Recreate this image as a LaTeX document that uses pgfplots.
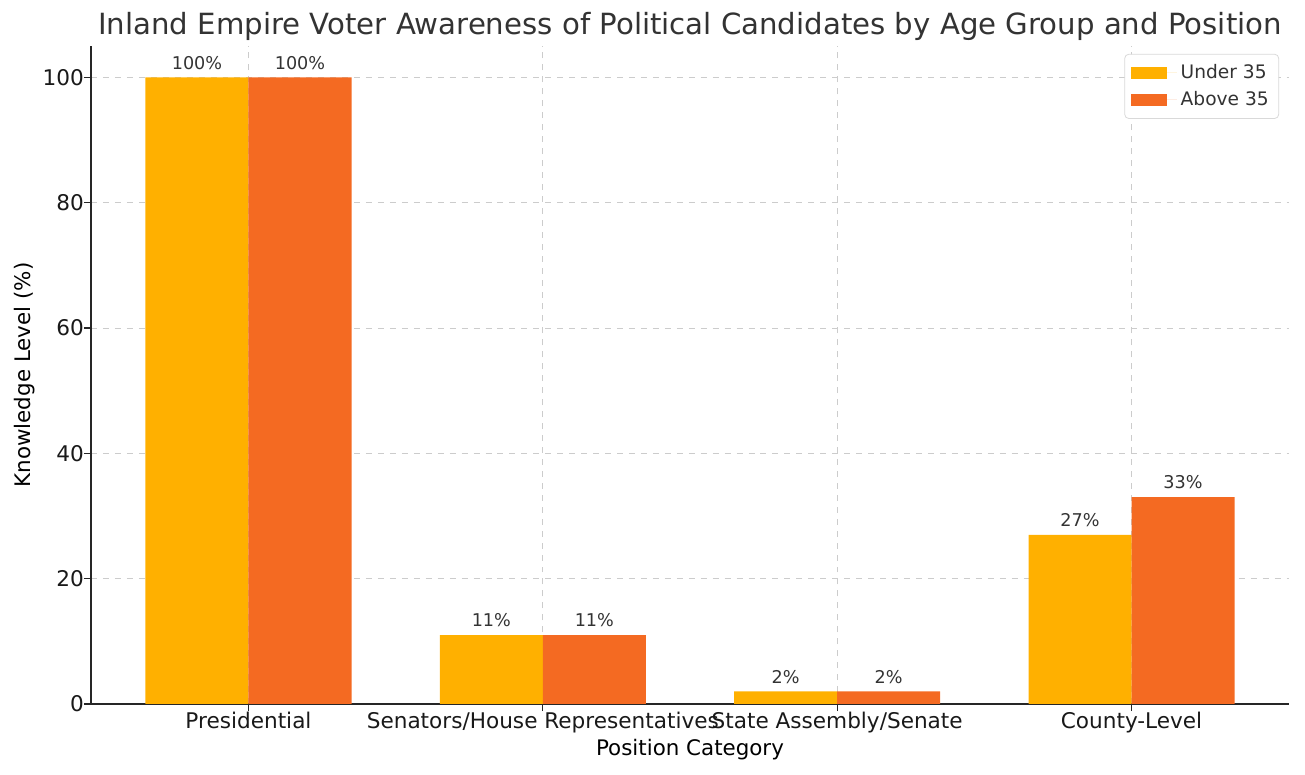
\documentclass[border=0pt]{standalone}
\usepackage{pgfplots}
\pgfplotsset{compat=1.18}
\usepackage{fontspec}
\setmainfont{DejaVu Sans}
\definecolor{under}{HTML}{FFB000}
\definecolor{above}{HTML}{F46A22}
\definecolor{txt}{HTML}{333333}
\begin{document}
\begin{tikzpicture}
\useasboundingbox (-45.5bp,-35.5bp) rectangle (607bp,352bp);
\begin{axis}[
    at={(0,0)}, anchor=south west,
    scale only axis,
    width=599bp, height=329bp,
    xmin=-0.535, xmax=3.535,
    ymin=0, ymax=105,
    axis x line*=bottom, axis y line*=left,
    axis line style={-, line width=0.6bp, black!85},
    xtick={0,1,2,3},
    xticklabels={Presidential, Senators/House Representatives, State Assembly/Senate, County-Level},
    ytick={0,20,40,60,80,100},
    tick align=outside,
    major tick length=3.5bp,
    tick style={black!85, line width=0.6bp},
    grid=major,
    grid style={dashed, line width=0.4bp, black!20},
    ticklabel style={font=\fontsize{10.8bp}{12bp}\selectfont, text=black!90},
    xticklabel style={yshift=3bp},
    yticklabel style={xshift=3.5bp},
    /pgf/number format/assume math mode=true,
    xlabel={Position Category},
    ylabel={Knowledge Level (\%)},
    label style={font=\fontsize{10.7bp}{12bp}\selectfont},
    xlabel style={yshift=3.5bp},
    ylabel style={yshift=-3bp},
    title={Inland Empire Voter Awareness of Political Candidates by Age Group and Position},
    title style={font=\fontsize{14.6bp}{17bp}\selectfont, text=txt, yshift=-7bp},
    ybar, bar width=0.35,
    nodes near coords={\pgfmathprintnumber{\pgfplotspointmeta}\%},
    every node near coord/.append style={font=\fontsize{8.8bp}{10bp}\selectfont, text=txt, yshift=0.5bp},
    legend style={at={(0.9917,0.988)}, anchor=north east, draw=black!15, rounded corners=2bp,
        font=\fontsize{9.3bp}{11bp}\selectfont, text=txt, row sep=1bp, inner sep=3bp},
    legend cell align=left,
    legend image code/.code={\path (0bp,0bp) -- (23bp,0bp);\fill[#1, sharp corners] (0bp,-3bp) rectangle (18bp,3bp);},
]
\addplot[fill=under, draw=none, bar shift=-0.175] coordinates {(0,100) (1,11) (2,2) (3,27)};
\addlegendentry{Under 35}
\addplot[fill=above, draw=none, bar shift=0.175] coordinates {(0,100) (1,11) (2,2) (3,33)};
\addlegendentry{Above 35}
\end{axis}
\end{tikzpicture}
\end{document}
